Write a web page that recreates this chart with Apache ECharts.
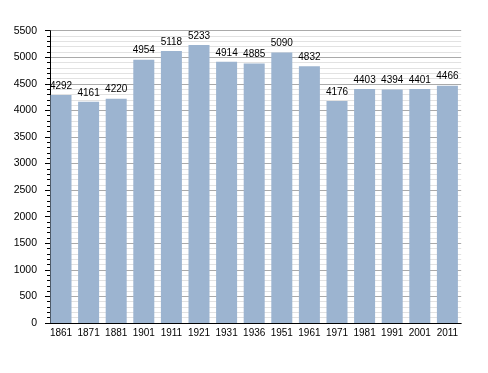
<!DOCTYPE html>
<html><head><meta charset="utf-8">
<script src="https://cdn.jsdelivr.net/npm/echarts@6/dist/echarts.min.js"></script>
<style>html,body{margin:0;padding:0;background:#fff}#c{width:488px;height:373px}</style>
</head><body><div id="c"></div>
<script>
const years = ['1861','1871','1881','1901','1911','1921','1931','1936','1951','1961','1971','1981','1991','2001','2011'];
const population = [4292,4161,4220,4954,5118,5233,4914,4885,5090,4832,4176,4403,4394,4401,4466];
const yTicks = {min:0, max:5500, interval:500};

const chart = echarts.init(document.getElementById('c'), null, {renderer:'canvas'});
const font = 'Liberation Sans, Arial, sans-serif';
chart.setOption({
  animation:false,
  grid:{left:47.2, right:26.8, top:30.7, bottom:50, containLabel:false},
  xAxis:{
    type:'category', data:years, boundaryGap:true,
    axisLine:{show:true, lineStyle:{color:'#000', width:1}},
    axisTick:{show:false},
    axisLabel:{color:'#000', fontSize:10, fontFamily:font, margin:5, interval:0}
  },
  yAxis:{
    type:'value', min:yTicks.min, max:yTicks.max, interval:yTicks.interval,
    offset:-2.8,
    axisLine:{show:true, lineStyle:{color:'#000', width:1}},
    axisTick:{show:true, length:5, lineStyle:{color:'#000'}},
    minorTick:{show:true, splitNumber:5, length:3, lineStyle:{color:'#000'}},
    splitLine:{show:true, lineStyle:{color:'#aaaaaa', width:1}},
    minorSplitLine:{show:true, lineStyle:{color:'#e2e2e2', width:1}},
    axisLabel:{color:'#000', fontSize:10.5, fontFamily:font, margin:13,
      formatter:function(v){return String(v);}}
  },
  series:[{
    type:'bar', data:population, barWidth:21,
    itemStyle:{color:'#9cb4d0'},
    label:{show:true, position:'top', distance:4, color:'#000', fontSize:10, fontFamily:font}
  }]
});
</script></body></html>
